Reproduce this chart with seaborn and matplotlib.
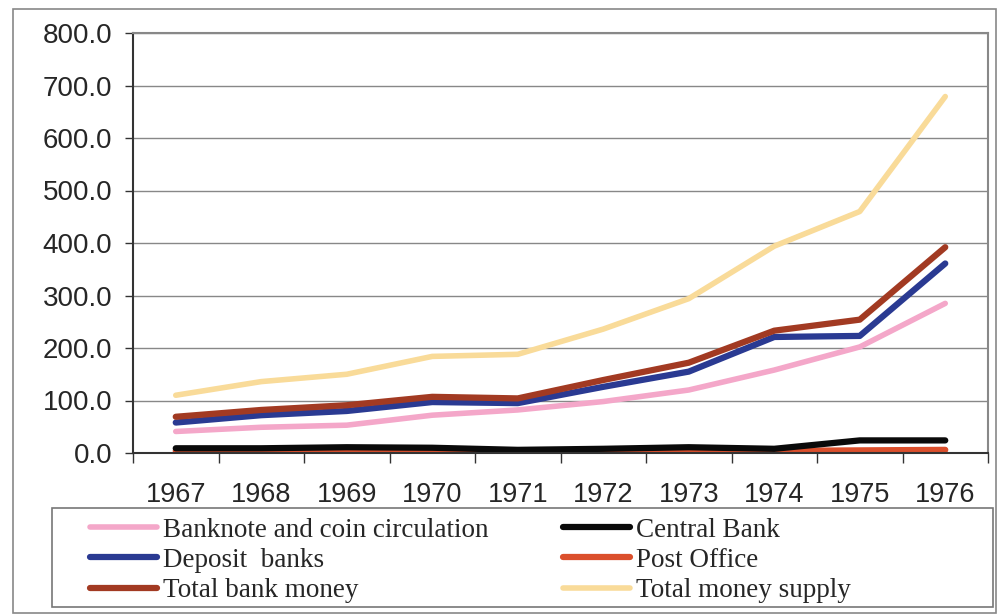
import numpy as np
import pandas as pd
import matplotlib
matplotlib.use("Agg")
import matplotlib.pyplot as plt
import seaborn as sns
from matplotlib.patches import Rectangle
from matplotlib.ticker import FormatStrFormatter, FixedLocator

# -------------------------------------------------------
# Data
# -------------------------------------------------------

years = [1967, 1968, 1969, 1970, 1971, 1972, 1973, 1974, 1975, 1976]

banknote_coin = [41, 49, 53, 72, 82, 98, 120, 158, 202, 285]
central_bank = [9, 9, 11, 10, 6, 8, 11, 8, 24, 24]
deposit_banks = [58, 72, 80, 97, 95, 126, 155, 221, 223, 361]
post_office = [4, 4, 4, 4, 4, 4, 4, 4, 5, 6]
total_bank_money = [69, 82, 91, 107, 104, 139, 172, 233, 254, 392]
total_money_supply = [110, 136, 150, 184, 188, 236, 294, 394, 460, 679]

series_names = [
    "Banknote and coin circulation",
    "Central Bank",
    "Deposit  banks",
    "Post Office",
    "Total bank money",
    "Total money supply",
]
series_values = [
    banknote_coin,
    central_bank,
    deposit_banks,
    post_office,
    total_bank_money,
    total_money_supply,
]
colors = ["#F4A7C9", "#0A0A0A", "#2A3A92", "#DB4F2C", "#A23A22", "#F9DB99"]
widths = [4.0, 4.5, 4.5, 4.5, 4.5, 4.0]

df = pd.DataFrame({
    "Year": np.tile(years, len(series_names)),
    "Series": np.repeat(series_names, len(years)),
    "Value": np.concatenate(series_values),
})

# -------------------------------------------------------
# Plot
# -------------------------------------------------------

sns.set_style("white")
plt.rcParams["font.family"] = ["Liberation Sans", "DejaVu Sans"]

fig = plt.figure(figsize=(9.98, 6.15), dpi=100)
ax = fig.add_axes([133 / 998, 1 - 453 / 615, 855 / 998, 420 / 615])

# draw order: lower lines first like the original
draw_order = [3, 1, 0, 2, 4, 5]
for i in draw_order:
    sub = df[df["Series"] == series_names[i]]
    sns.lineplot(
        data=sub, x="Year", y="Value", ax=ax,
        color=colors[i], linewidth=widths[i],
        solid_capstyle="round", solid_joinstyle="round",
        legend=False,
    )

ax.set_xlim(1966.5, 1976.5)
ax.set_ylim(0, 800)
ax.set_xlabel("")
ax.set_ylabel("")

ax.set_yticks(np.arange(0, 801, 100))
ax.yaxis.set_major_formatter(FormatStrFormatter("%.1f"))
ax.grid(axis="y", color="#888888", linewidth=1.0)
ax.set_axisbelow(True)

ax.set_xticks(years)
ax.set_xticklabels([str(y) for y in years])
ax.xaxis.set_minor_locator(FixedLocator(np.arange(1966.5, 1977, 1.0)))

ax.tick_params(axis="y", which="major", direction="out", length=6, width=1,
               color="#333333", labelsize=20, pad=9, left=True)
ax.tick_params(axis="x", which="major", length=0, labelsize=19.5, pad=21)
ax.tick_params(axis="x", which="minor", direction="out", length=7, width=1,
               color="#333333", bottom=True)

for side in ["left", "bottom"]:
    ax.spines[side].set_color("#333333")
    ax.spines[side].set_linewidth(1.5)
for side in ["top", "right"]:
    ax.spines[side].set_color("#888888")
    ax.spines[side].set_linewidth(1.5)

# legend in two columns, in a boxed area under the chart
handles = [plt.Line2D([0], [0], color=c, linewidth=w, solid_capstyle="round")
           for c, w in zip(colors, widths)]
order = [0, 2, 4, 1, 3, 5]
fig.legend(
    [handles[i] for i in order], [series_names[i] for i in order],
    ncol=2, loc="upper left", bbox_to_anchor=(76 / 998, 1 - 504 / 615),
    frameon=False, borderpad=0, handlelength=2.5, handletextpad=0.2,
    columnspacing=2.75, labelspacing=0.2,
    prop={"family": "Liberation Serif", "size": 19.5},
)
fig.patches.append(Rectangle((52 / 998, 1 - 607 / 615), 941 / 998, 99 / 615,
                             transform=fig.transFigure, fill=False,
                             edgecolor="#777777", linewidth=1.2))

# outer chart border
fig.patches.append(Rectangle((13 / 998, 1 - 613 / 615), 983 / 998, 604 / 615,
                             transform=fig.transFigure, fill=False,
                             edgecolor="#888888", linewidth=1.2))

fig.savefig("out.png", dpi=100)
